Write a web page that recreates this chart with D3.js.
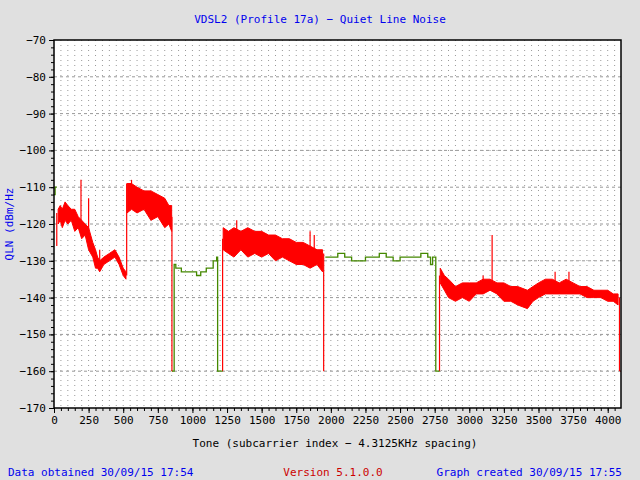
<!DOCTYPE html>
<html><head><meta charset="utf-8">
<script src="https://cdn.jsdelivr.net/npm/d3@7"></script>
<style>body{margin:0;background:#e0e0e0}text{font-family:"DejaVu Sans Mono",monospace;font-size:11px}</style>
</head><body><svg id="c" width="640" height="480"></svg>
<script>
// Red (noisy) segments: [tone, low, high]
const redBand1 = [[30,-120,-116],[45,-119,-115],[60,-121,-116],[80,-119,-114],[100,-120,-115],[125,-119,-116],[150,-122,-116],[175,-121,-118],[200,-124,-119],[225,-123,-120],[250,-127,-121],[280,-129,-125],[300,-132,-127],[315,-132,-129],[330,-133,-130],[360,-131,-129],[400,-130,-128],[440,-129,-127],[470,-131,-129],[500,-134,-132],[520,-135,-133]];
const redBand2 = [[528,-117,-109],[560,-116,-109],[600,-117,-110],[650,-116,-111],[700,-119,-111],[750,-118,-112],[800,-121,-113],[830,-120,-115],[850,-122,-115]];
const redBand3 = [[1222,-127,-121],[1260,-128,-122],[1300,-129,-121],[1350,-127,-122],[1400,-129,-121],[1450,-128,-122],[1500,-129,-122],[1550,-128,-123],[1600,-130,-123],[1650,-129,-124],[1700,-130,-124],[1750,-131,-125],[1800,-131,-125],[1850,-132,-126],[1900,-131,-127],[1940,-133,-127]];
const redBand4 = [[2790,-136,-132],[2820,-138,-134],[2850,-140,-135],[2900,-141,-137],[2950,-140,-136],[3000,-141,-136],[3050,-139,-136],[3100,-139,-135],[3150,-138,-135],[3200,-139,-136],[3250,-141,-136],[3300,-141,-137],[3350,-142,-137],[3420,-143,-138],[3460,-141,-137],[3500,-140,-136],[3550,-139,-135],[3600,-139,-135],[3650,-139,-136],[3700,-139,-135],[3750,-139,-136],[3800,-139,-137],[3850,-140,-137],[3900,-140,-138],[3950,-140,-138],[4000,-141,-138],[4040,-141,-139],[4075,-142,-139]];
// Red drops to floor and spikes: [tone, from, to]
const redLines = [[20,-126,-117],[525,-134,-109],[852,-118,-160],[852,-160,-160],[1218,-160,-124],[1948,-128,-160],[2785,-160,-134],[4085,-140,-160],[4090,-160,-160],[195,-120,-108],[250,-122,-113],[330,-131,-127],[3165,-137,-123],[3720,-138,-133],[1320,-126,-119],[1850,-127,-122],[560,-113,-108],[1880,-129,-123],[3100,-138,-134],[3620,-137,-133]];
// Green step segments: [tone, value]
const green0 = [[0,-112],[8,-110],[20,-110]];
const green1 = [[852,-160],[868,-160],[868,-131],[880,-132],[920,-133],[980,-133],[1030,-134],[1060,-133],[1100,-132],[1150,-130],[1175,-129],[1182,-129],[1182,-160],[1218,-160]];
const green2 = [[1960,-129],[2000,-129],[2050,-128],[2100,-129],[2150,-130],[2200,-130],[2250,-129],[2300,-129],[2350,-128],[2400,-129],[2450,-130],[2500,-129],[2600,-129],[2650,-128],[2700,-129],[2720,-131],[2735,-129],[2758,-130],[2758,-160],[2785,-160]];
const yTicks = d3.range(-70,-171,-10);
const xTicks = d3.range(0,4001,250);

const svg = d3.select("#c");
const L=54,T=40,R=621,B=408;
const x = d3.scaleLinear().domain([0,4096]).range([L,R]);
const y = d3.scaleLinear().domain([-170,-70]).range([B,T]);
svg.append("rect").attr("x",L).attr("y",T).attr("width",R-L).attr("height",B-T).attr("fill","#fff");
const g = svg.append("g");
d3.range(50,4096,50).forEach(t=>g.append("line").attr("x1",x(t)).attr("x2",x(t)).attr("y1",T).attr("y2",B).attr("stroke","#999").attr("stroke-dasharray","1,4"));
yTicks.slice(1,-1).forEach(v=>g.append("line").attr("x1",L).attr("x2",R).attr("y1",y(v)).attr("y2",y(v)).attr("stroke","#999").attr("stroke-dasharray","3,3"));
const area = d3.area().x(d=>x(d[0])).y0(d=>y(d[1])).y1(d=>y(d[2]));
[redBand1,redBand2,redBand3,redBand4].forEach(b=>g.append("path").attr("d",area(b)).attr("fill","#ff0000").attr("stroke","#ff0000").attr("stroke-width",1));
redLines.forEach(d=>g.append("line").attr("x1",x(d[0])).attr("x2",x(d[0])+(d[1]===d[2]?x(5)-x(0):0)).attr("y1",y(d[1])).attr("y2",y(d[2])).attr("stroke","#ff0000").attr("stroke-width",1.2));
const step = d3.line().x(d=>x(d[0])).y(d=>y(d[1])).curve(d3.curveStepAfter);
[green0,green1,green2].forEach(s=>g.append("path").attr("d",step(s)).attr("fill","none").attr("stroke","#448800").attr("stroke-width",1.3));
svg.append("rect").attr("x",L).attr("y",T).attr("width",R-L).attr("height",B-T).attr("fill","none").attr("stroke","#000").attr("stroke-width",1.5);
svg.append("g").attr("transform",`translate(${L},0)`).call(d3.axisLeft(y).tickValues(d3.range(-170,-69,2)).tickSize(3).tickFormat(""));
svg.append("g").attr("transform",`translate(0,${B})`).call(d3.axisBottom(x).tickValues(d3.range(0,4097,50)).tickSize(3).tickFormat(""));
const ya = svg.append("g").attr("transform",`translate(${L},0)`).call(d3.axisLeft(y).tickValues(yTicks).tickSize(5).tickSizeOuter(0));
const xa = svg.append("g").attr("transform",`translate(0,${B})`).call(d3.axisBottom(x).tickValues(xTicks).tickFormat(d3.format("d")).tickSize(5).tickSizeOuter(0));
svg.selectAll(".domain").remove();
svg.selectAll(".tick text").attr("fill","#000").style("font-size","11px");
const t=(s,x0,y0,c,a)=>svg.append("text").attr("x",x0).attr("y",y0).attr("fill",c).attr("text-anchor",a||"middle").text(s);
t("VDSL2 (Profile 17a) \u2212 Quiet Line Noise",320,23,"#0000ee");
t("Tone (subcarrier index \u2212 4.3125KHz spacing)",335,447,"#000");
svg.append("text").attr("transform","translate(13,224) rotate(-90)").attr("text-anchor","middle").attr("fill","#0000ee").text("QLN (dBm/Hz");
t("Data obtained 30/09/15 17:54",8,476,"#0000ee","start");
t("Version 5.1.0.0",333,476,"#cc0000");
t("Graph created 30/09/15 17:55",622,476,"#0000ee","end");
</script></body></html>
